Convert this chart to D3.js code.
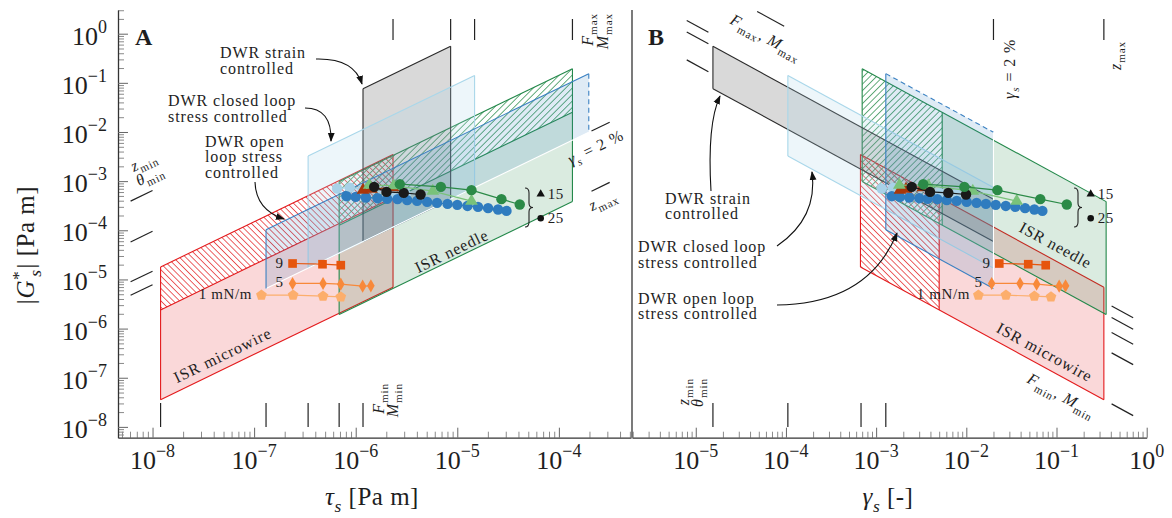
<!DOCTYPE html>
<html>
<head>
<meta charset="utf-8">
<script src="https://cdn.jsdelivr.net/npm/d3@7"></script>
<style>
  html, body { margin: 0; padding: 0; background: #ffffff; }
  svg { display: block; }
  text { font-family: "Liberation Serif", "DejaVu Serif", serif; fill: #1e1e1e; }
</style>
</head>
<body>
<svg id="chart" width="1172" height="518"></svg>
<script>
// ---------- instrument operating windows (stress tau, strain gamma) ----------
const instruments   = ["ISR microwire", "ISR needle", "DWR strain controlled",
                       "DWR closed loop stress controlled", "DWR open loop stress controlled"];
const tauMin        = [1.2e-8, 6.87e-7, 1.18e-6, 3.4e-7, 1.31e-7];
const tauMax        = [2.33e-6, 1.36e-4, 8.6e-6, 1.48e-5, 1.97e-4];
const gammaMin      = [6.7e-4, 7.0e-4, 1.55e-5, 1.05e-4, 1.28e-3];
const gammaHatchEnd = [5.0e-3, 5.4e-3, null, null, null];
const gammaMax      = [0.335, 0.355, 0.02, 0.02, 0.02];

// ---------- limit markers ----------
const tauMinMarks   = [1.2e-8, 1.31e-7, 3.4e-7, 6.87e-7, 1.18e-6];
const tauMaxMarks   = [2.33e-6, 8.6e-6, 1.48e-5, 1.36e-4];
const gammaMinMarks = [1.55e-5, 1.05e-4, 6.8e-4, 1.28e-3];
const gammaMaxMarks = [0.02, 0.335];

// ---------- measured series: tau (panel A), gamma (panel B), |G*| ----------
const lightBlueTau   = [6.56e-7, 8.75e-7, 1.17e-6, 2.26e-6, 3.11e-6];
const lightBlueGamma = [1.15e-3, 1.54e-3, 2.09e-3, 5.10e-3, 7.69e-3];
const lightBlueG     = [7.09e-4, 7.36e-4, 6.86e-4, 5.69e-4, 5.42e-4];

const blueTau   = [8.11e-7, 1.00e-6, 1.26e-6, 1.64e-6, 2.04e-6, 2.58e-6, 3.21e-6, 4.02e-6, 5.05e-6,
                   6.32e-6, 8.02e-6, 1.00e-5, 1.26e-5, 1.60e-5, 2.01e-5, 2.52e-5, 3.05e-5];
const blueGamma = [1.49e-3, 1.84e-3, 2.33e-3, 3.01e-3, 3.73e-3, 4.77e-3, 6.07e-3, 7.83e-3, 1.01e-2,
                   1.30e-2, 1.65e-2, 2.12e-2, 2.74e-2, 3.49e-2, 4.48e-2, 5.68e-2, 6.97e-2];
const blueG     = [4.94e-4, 4.78e-4, 4.65e-4, 4.50e-4, 4.35e-4, 4.30e-4, 4.10e-4, 3.96e-4, 3.78e-4,
                   3.61e-4, 3.44e-4, 3.29e-4, 3.13e-4, 2.99e-4, 2.82e-4, 2.65e-4, 2.48e-4];

const brownTau   = [1.18e-6, 1.43e-6, 2.33e-6];
const brownGamma = [1.84e-3, 2.14e-3, 3.29e-3];
const brownG     = [6.55e-4, 6.86e-4, 7.43e-4];

const lightGreenTau   = [1.36e-6, 2.37e-6, 5.74e-6, 1.38e-5];
const lightGreenGamma = [1.81e-3, 3.79e-3, 1.18e-2, 3.62e-2];
const lightGreenG     = [8.27e-4, 8.08e-4, 6.25e-4, 3.91e-4];

const blackTau   = [1.52e-6, 2.01e-6, 2.97e-6, 4.35e-6];
const blackGamma = [2.48e-3, 3.96e-3, 6.31e-3, 9.93e-3];
const blackG     = [7.64e-4, 6.04e-4, 5.76e-4, 5.35e-4];

const greenTau   = [2.72e-6, 6.89e-6, 1.38e-5, 2.72e-5, 4.12e-5];
const greenGamma = [3.33e-3, 9.51e-3, 2.21e-2, 6.61e-2, 0.130];
const greenG     = [8.67e-4, 7.64e-4, 6.55e-4, 4.30e-4, 3.35e-4];

const film9Tau   = [2.39e-7, 4.71e-7, 7.13e-7];
const film9Gamma = [2.32e-2, 4.86e-2, 7.59e-2];
const film9G     = [2.11e-5, 2.04e-5, 1.95e-5];

const film5Tau   = [2.39e-7, 4.77e-7, 7.13e-7, 1.17e-6, 1.41e-6];
const film5Gamma = [1.91e-2, 3.94e-2, 6.02e-2, 0.107, 0.126];
const film5G     = [8.28e-6, 8.28e-6, 8.00e-6, 7.29e-6, 7.40e-6];

const film1Tau   = [1.18e-7, 2.42e-7, 4.77e-7, 7.13e-7];
const film1Gamma = [1.36e-2, 2.75e-2, 5.68e-2, 8.69e-2];
const film1G     = [4.79e-6, 4.79e-6, 4.56e-6, 4.42e-6];

// ---------- scales ----------
const svg = d3.select("#chart");
const yTop = 10, yBot = 437.7;
const yG   = d3.scaleLog().domain([10 ** -8.22, 10 ** 0.482]).range([yBot, yTop]);
const xTau = d3.scaleLog().domain([10 ** -8.34, 10 ** -3.29]).range([118, 631]);
const xGam = d3.scaleLog().domain([10 ** -5.707, 1]).range([632, 1146.7]);

const posA = (tau, gam) => [xTau(tau), yG(tau / gam)];
const posB = (tau, gam) => [xGam(gam), yG(tau / gam)];

// slope of constant-strain / constant-stress lines in pixels
const angA = -Math.atan((yG(1e-4) - yG(1e-3)) / (xTau(1e-5) - xTau(1e-6))) * 180 / Math.PI;
const angB =  Math.atan((yG(1e-4) - yG(1e-3)) / (xGam(1e-2) - xGam(1e-3))) * 180 / Math.PI;

// ---------- defs: hatches and arrow head ----------
const defs = svg.append("defs");
function hatch(id, color, angle, gap) {
  const p = defs.append("pattern").attr("id", id).attr("patternUnits", "userSpaceOnUse")
    .attr("width", gap).attr("height", gap).attr("patternTransform", `rotate(${angle})`);
  p.append("line").attr("x1", gap / 2).attr("y1", 0).attr("x2", gap / 2).attr("y2", gap)
    .attr("stroke", color).attr("stroke-width", 0.85);
}
hatch("hatchRed", "#e8484a", -45, 4.4);
hatch("hatchGreen", "#4a9e66", 45, 4.6);

defs.append("marker").attr("id", "arrowHead").attr("viewBox", "0 0 10 10")
  .attr("refX", 9).attr("refY", 5).attr("markerWidth", 9).attr("markerHeight", 9)
  .attr("markerUnits", "userSpaceOnUse").attr("orient", "auto")
  .append("path").attr("d", "M0,1.2 L10,5 L0,8.8 Z").attr("fill", "#111");

// ---------- region styling ----------
const regionStyles = [
  { edge: "#e31a1c", fill: "#e31a1c", alpha: 0.17, hatch: "url(#hatchRed)" },
  { edge: "#23884a", fill: "#23884a", alpha: 0.17, hatch: "url(#hatchGreen)" },
  { edge: "#2a2a2a", fill: "#000000", alpha: 0.15 },
  { edge: "#a9d7ea", fill: "#add8e6", alpha: 0.22 },
  { edge: "#3a80c2", fill: "#3a80c2", alpha: 0.16,
    sides: { tauMax: { dash: "5,3.5" }, gamMax: { color: "#ffffff" } } }
];

function drawRegions(g, pos) {
  instruments.forEach((name, i) => {
    const st = regionStyles[i];
    const t0 = tauMin[i], t1 = tauMax[i], g0 = gammaMin[i], g1 = gammaMax[i], gh = gammaHatchEnd[i];
    const parts = gh ? [{ a: g0, b: gh, hatched: true }, { a: gh, b: g1, hatched: false }]
                     : [{ a: g0, b: g1, hatched: false }];
    parts.forEach(p => {
      const poly = [pos(t0, p.a), pos(t1, p.a), pos(t1, p.b), pos(t0, p.b)];
      g.append("path").attr("d", "M" + poly.join("L") + "Z")
        .attr("fill", p.hatched ? st.hatch : st.fill)
        .attr("fill-opacity", p.hatched ? 1 : st.alpha);
    });
    const sides = {
      gamMin: [[t0, g0], [t1, g0]],
      tauMax: [[t1, g0], [t1, g1]],
      gamMax: [[t1, g1], [t0, g1]],
      tauMin: [[t0, g1], [t0, g0]]
    };
    if (gh) sides.gamMid = [[t0, gh], [t1, gh]];
    Object.entries(sides).forEach(([k, [p, q]]) => {
      const o = (st.sides && st.sides[k]) || {};
      const a = pos(p[0], p[1]), b = pos(q[0], q[1]);
      g.append("line").attr("x1", a[0]).attr("y1", a[1]).attr("x2", b[0]).attr("y2", b[1])
        .attr("stroke", o.color || st.edge).attr("stroke-width", 1.1)
        .attr("stroke-dasharray", o.dash || null);
    });
  });
}
drawRegions(svg.append("g"), posA);
drawRegions(svg.append("g"), posB);

// ---------- axes ----------
function logTicks(scale) {
  const [a, b] = scale.domain(), major = [], minor = [];
  for (let e = Math.floor(Math.log10(a)); e <= Math.ceil(Math.log10(b)); e++) {
    for (let m = 1; m < 10; m++) {
      const v = m * 10 ** e;
      if (v >= a * 0.999 && v <= b * 1.001) (m === 1 ? major : minor).push(v);
    }
  }
  return { major, minor };
}
function expLabel(x, y, e, anchor) {
  const t = svg.append("text").attr("x", x).attr("y", y).attr("text-anchor", anchor)
    .attr("font-size", 26);
  t.append("tspan").text("10");
  t.append("tspan").attr("dy", -12).attr("font-size", 18).text(e < 0 ? "\u2212" + (-e) : String(e));
}
function bottomAxis(scale) {
  const { major, minor } = logTicks(scale);
  const gm = svg.append("g").attr("transform", `translate(0,${yBot})`)
    .call(d3.axisBottom(scale).tickValues(minor).tickSize(-6).tickSizeOuter(0).tickFormat(""));
  gm.select(".domain").remove();
  gm.selectAll(".tick line").attr("stroke", "#8a8a8a");
  const gM = svg.append("g").attr("transform", `translate(0,${yBot})`)
    .call(d3.axisBottom(scale).tickValues(major).tickSize(-10).tickSizeOuter(0).tickFormat(""));
  gM.select(".domain").attr("stroke", "#333").attr("stroke-width", 1.3);
  gM.selectAll(".tick line").attr("stroke", "#666");
  major.forEach(v => expLabel(scale(v), yBot + 31, Math.round(Math.log10(v)), "middle"));
}
bottomAxis(xTau);
bottomAxis(xGam);

(function leftAxis() {
  const { major, minor } = logTicks(yG);
  const gm = svg.append("g").attr("transform", "translate(118,0)")
    .call(d3.axisLeft(yG).tickValues(minor).tickSize(-6).tickSizeOuter(0).tickFormat(""));
  gm.select(".domain").remove();
  gm.selectAll(".tick line").attr("stroke", "#8a8a8a");
  const gM = svg.append("g").attr("transform", "translate(118,0)")
    .call(d3.axisLeft(yG).tickValues(major).tickSize(-10).tickSizeOuter(0).tickFormat(""));
  gM.select(".domain").attr("stroke", "#333").attr("stroke-width", 1.3);
  gM.selectAll(".tick line").attr("stroke", "#666");
  major.forEach(v => expLabel(107, yG(v) + 11, Math.round(Math.log10(v)), "end"));
  svg.append("line").attr("x1", 632).attr("x2", 632).attr("y1", yTop).attr("y2", yBot)
    .attr("stroke", "#333").attr("stroke-width", 1.3);
})();

// ---------- limit markers ----------
const markG = svg.append("g").attr("stroke", "#222").attr("stroke-width", 1.2);
function seg(a, b) {
  markG.append("line").attr("x1", a[0]).attr("y1", a[1]).attr("x2", b[0]).attr("y2", b[1]);
}
tauMinMarks.forEach(t => { seg([xTau(t), 403], [xTau(t), 427]); });
tauMaxMarks.forEach(t => { seg([xTau(t), 19], [xTau(t), 40]); });
gammaMinMarks.forEach(gm => { seg(posA(10 ** -8.216, gm), posA(1e-8, gm)); });
gammaMaxMarks.forEach(gm => { seg(posA(10 ** -3.679, gm), posA(10 ** -3.5, gm)); });
gammaMinMarks.forEach(gm => { seg([xGam(gm), 403], [xGam(gm), 427]); });
gammaMaxMarks.forEach(gm => { seg([xGam(gm), 19], [xGam(gm), 40]); });
tauMaxMarks.forEach(t => {
  let g0 = 10 ** -5.1, g1 = 10 ** -4.86;
  if (yG(t / g0) < 14) { g1 = t / 10 ** 0.153; g0 = g1 / 10 ** 0.3; }
  seg(posB(t, g0), posB(t, g1));
});
tauMinMarks.forEach(t => { seg(posB(t, 10 ** -0.389), posB(t, 10 ** -0.15)); });

// ---------- measured series ----------
const pentagon = {
  draw(ctx, size) {
    const r = Math.sqrt(size / 2.378);
    for (let k = 0; k < 5; k++) {
      const a = -Math.PI / 2 + k * 2 * Math.PI / 5;
      k ? ctx.lineTo(r * Math.cos(a), r * Math.sin(a)) : ctx.moveTo(r * Math.cos(a), r * Math.sin(a));
    }
    ctx.closePath();
  }
};
const seriesList = [
  { tau: lightBlueTau,  gam: lightBlueGamma,  G: lightBlueG,  color: "#a8d1e7", symbol: d3.symbolCircle,   size: 85 },
  { tau: blueTau,       gam: blueGamma,       G: blueG,       color: "#2f7cbf", symbol: d3.symbolCircle,   size: 85 },
  { tau: brownTau,      gam: brownGamma,      G: brownG,      color: "#a8370a", symbol: d3.symbolTriangle, size: 70 },
  { tau: lightGreenTau, gam: lightGreenGamma, G: lightGreenG, color: "#79c27a", symbol: d3.symbolTriangle, size: 70 },
  { tau: blackTau,      gam: blackGamma,      G: blackG,      color: "#1a1a1a", symbol: d3.symbolCircle,   size: 85 },
  { tau: greenTau,      gam: greenGamma,      G: greenG,      color: "#2b8a47", symbol: d3.symbolCircle,   size: 85 },
  { tau: film9Tau,      gam: film9Gamma,      G: film9G,      color: "#e6550d", symbol: d3.symbolSquare,   size: 75 },
  { tau: film5Tau,      gam: film5Gamma,      G: film5G,      color: "#f8893a", symbol: d3.symbolDiamond,  size: 50 },
  { tau: film1Tau,      gam: film1Gamma,      G: film1G,      color: "#fcae6c", symbol: pentagon,          size: 75 }
];
function drawSeries(g, xs, key) {
  seriesList.forEach(s => {
    const pts = s.G.map((G, i) => [xs(s[key][i]), yG(G)]);
    g.append("path").attr("d", d3.line()(pts)).attr("fill", "none")
      .attr("stroke", s.color).attr("stroke-width", 1.2);
    g.selectAll(null).data(pts).join("path")
      .attr("transform", d => `translate(${d[0]},${d[1]})`)
      .attr("d", d3.symbol().type(s.symbol).size(s.size))
      .attr("fill", s.color);
  });
}
drawSeries(svg.append("g"), xTau, "tau");
drawSeries(svg.append("g"), xGam, "gam");

// ---------- text helpers ----------
function rich(x, y, parts, opt = {}) {
  const fs = opt.size || 16;
  const t = svg.append("text").attr("x", x).attr("y", y).attr("font-size", fs)
    .attr("text-anchor", opt.anchor || "start")
    .attr("letter-spacing", opt.spacing == null ? 0.9 : opt.spacing);
  if (opt.rotate) t.attr("transform", `rotate(${opt.rotate},${x},${y})`);
  if (opt.weight) t.attr("font-weight", opt.weight);
  let shift = 0;
  parts.forEach(p => {
    if (typeof p === "string") p = { t: p };
    const s = t.append("tspan").text(p.t);
    let target = 0;
    if (p.sub) target = fs * 0.28;
    if (p.sup) target = -fs * 0.42;
    if (p.sub || p.sup) s.attr("font-size", fs * 0.7);
    if (p.it) s.attr("font-style", "italic");
    if (target !== shift) { s.attr("dy", target - shift); shift = target; }
    if (p.dx) s.attr("dx", p.dx);
  });
  return t;
}
function lines(x, y0, step, arr, opt) { arr.forEach((s, i) => rich(x, y0 + i * step, [s], opt)); }
function arrow(d) {
  svg.append("path").attr("d", d).attr("fill", "none").attr("stroke", "#111")
    .attr("stroke-width", 1.1).attr("marker-end", "url(#arrowHead)");
}
const it = t => ({ t, it: true });
const sb = t => ({ t, sub: true });
const sbi = t => ({ t, sub: true, it: true });

// ---------- panel A annotations ----------
rich(135, 45, ["A"], { size: 24, weight: "bold", spacing: 0 });
lines(220, 57.5, 16, ["DWR strain", "controlled"]);
arrow("M316,59 Q354,58 362,84");
lines(168, 106, 16, ["DWR closed loop", "stress controlled"]);
arrow("M305,108 Q332,108 331,141");
lines(205, 146.5, 15.8, ["DWR open", "loop stress", "controlled"]);
arrow("M255,182 Q256,210 284,219");

rich(225, 360, ["ISR microwire"], { anchor: "middle", rotate: angA });
rich(454, 256, ["ISR needle"], { anchor: "middle", rotate: angA });
rich(146, 166, [it("z"), sb("min")], { anchor: "middle", rotate: angA });
rich(152, 180, [it("θ"), sb("min")], { anchor: "middle", rotate: angA });
rich(384, 383, [it("F"), sb("min")], { anchor: "end", rotate: -90 });
rich(398, 383, [it("M"), sb("min")], { anchor: "end", rotate: -90 });
rich(593, 13, [it("F"), sb("max")], { anchor: "end", rotate: -90 });
rich(608, 13, [it("M"), sb("max")], { anchor: "end", rotate: -90 });
rich(598, 152, [it("γ"), sbi("s"), " = 2 %"], { anchor: "middle", rotate: angA });
rich(605, 205, [it("z"), sb("max")], { anchor: "middle", rotate: angA });

rich(283, 268, ["9"], { anchor: "end", size: 15, spacing: 0 });
rich(283, 287, ["5"], { anchor: "end", size: 15, spacing: 0 });
rich(252, 299, ["1 mN/m"], { anchor: "end", size: 15, spacing: 0.6 });

// ---------- panel B annotations ----------
rich(648, 45, ["B"], { size: 24, weight: "bold", spacing: 0 });
lines(665, 203.5, 15.5, ["DWR strain", "controlled"]);
arrow("M711,191 Q707,124 720,96");
lines(638, 252, 16, ["DWR closed loop", "stress controlled"]);
arrow("M777,246 Q818,218 812,172");
lines(638, 303.5, 15.5, ["DWR open loop", "stress controlled"]);
arrow("M777,305 Q868,304 897,233");

rich(729, 23, [it("F"), sb("max"), ", ", it("M"), sb("max")], { rotate: angB });
rich(1026, 382, [it("F"), sb("min"), ", ", it("M"), sb("min")], { rotate: angB });
rich(1042, 357, ["ISR microwire"], { anchor: "middle", rotate: angB });
rich(1053, 250, ["ISR needle"], { anchor: "middle", rotate: angB });
rich(689, 378, [it("z"), sb("min")], { anchor: "end", rotate: -90 });
rich(703, 378, [it("θ"), sb("min")], { anchor: "end", rotate: -90 });
rich(1015, 99, [it("γ"), sbi("s"), " = 2 %"], { rotate: -90 });
rich(1121, 70, [it("z"), sb("max")], { rotate: -90 });

rich(990, 268, ["9"], { anchor: "end", size: 15, spacing: 0 });
rich(982, 287, ["5"], { anchor: "end", size: 15, spacing: 0 });
rich(970, 299, ["1 mN/m"], { anchor: "end", size: 15, spacing: 0.6 });

// ---------- temperature key with brace ----------
function key(xb, xm) {
  svg.append("path").attr("fill", "none").attr("stroke", "#222").attr("stroke-width", 1.1)
    .attr("d", `M${xb},188 q4,0 4,5 v10 q0,4.5 4,4.5 q-4,0 -4,4.5 v10 q0,5 -4,5`);
  svg.append("path").attr("transform", `translate(${xm},194)`)
    .attr("d", d3.symbol().type(d3.symbolTriangle).size(30)).attr("fill", "#111");
  svg.append("circle").attr("cx", xm).attr("cy", 218.3).attr("r", 3.3).attr("fill", "#111");
  rich(xm + 7, 198.5, ["15"], { size: 15, spacing: 0.5 });
  rich(xm + 7, 222.5, ["25"], { size: 15, spacing: 0.5 });
}
key(525, 540.7);
key(1074, 1090.7);

// ---------- axis titles ----------
rich(34, 245, ["|", it("G"), { t: "*", sup: true }, { t: "s", sub: true, it: true, dx: -6 }, { t: "| [Pa m]", dx: 1 }],
     { anchor: "middle", rotate: -90, size: 25, spacing: 0.5 });
rich(372, 505, [it("τ"), sbi("s"), "  [Pa m]"], { anchor: "middle", size: 25, spacing: 0.5 });
rich(888, 505, [it("γ"), sbi("s"), "  [-]"], { anchor: "middle", size: 25, spacing: 0.5 });
</script>
</body>
</html>
